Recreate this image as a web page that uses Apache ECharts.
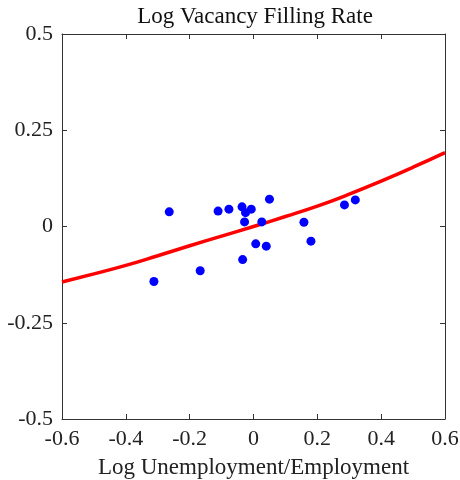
<!DOCTYPE html>
<html>
<head>
<meta charset="utf-8">
<script src="https://cdn.jsdelivr.net/npm/echarts@6/dist/echarts.min.js"></script>
<style>html,body{margin:0;padding:0;background:#fff}#c{width:460px;height:480px}</style>
</head>
<body>
<div id="c"></div>
<script>
var scatterX = [-0.264, -0.312, -0.167, -0.111, -0.077, -0.036, -0.025, -0.007, -0.028, 0.026, 0.050, 0.007, 0.040, -0.034, 0.158, 0.180, 0.285, 0.319];
var scatterY = [0.038, -0.143, -0.115, 0.040, 0.045, 0.051, 0.036, 0.045, 0.012, 0.012, 0.071, -0.045, -0.051, -0.086, 0.011, -0.038, 0.056, 0.069];
var fitX = [-0.6, -0.5, -0.4, -0.3, -0.2, -0.1, 0, 0.1, 0.2, 0.3, 0.4, 0.5, 0.6];
var fitY = [-0.144, -0.123, -0.101, -0.076, -0.050, -0.025, 0.0, 0.026, 0.053, 0.084, 0.118, 0.154, 0.192];
var titleText = 'Log Vacancy Filling Rate';
var xName = 'Log Unemployment/Employment';

var font = 'Liberation Serif';
var axisColor = '#333';
var chart = echarts.init(document.getElementById('c'));
var pts = scatterX.map(function (x, i) { return [x, scatterY[i]]; });
var fit = fitX.map(function (x, i) { return [x, fitY[i]]; });
function frameAxis(pos, isX, showLabel) {
  return {
    type: 'value', position: pos,
    min: isX ? -0.6 : -0.5, max: isX ? 0.6 : 0.5, interval: isX ? 0.2 : 0.25,
    axisLine: { show: true, onZero: false, lineStyle: { color: axisColor, width: 1 } },
    axisTick: { show: true, inside: true, length: 5, lineStyle: { color: axisColor } },
    axisLabel: { show: showLabel, color: '#222', fontFamily: font, fontSize: 22, margin: 9 },
    splitLine: { show: false }
  };
}
var xb = frameAxis('bottom', true, true);
xb.name = xName; xb.nameLocation = 'middle'; xb.nameGap = 37;
xb.nameTextStyle = { color: '#222', fontFamily: font, fontSize: 23 };
var xt = frameAxis('top', true, false);
var yl = frameAxis('left', false, true);
var yr = frameAxis('right', false, false);
chart.setOption({
  animation: false,
  title: { text: titleText, left: 250, top: 0, textAlign: 'center',
    textStyle: { color: '#111', fontFamily: font, fontSize: 23, fontWeight: 'normal' } },
  grid: { left: 62, right: 15, top: 34, bottom: 61, containLabel: false, outerBoundsMode: 'none' },
  xAxis: [xb, xt],
  yAxis: [yl, yr],
  series: [
    { type: 'line', data: fit, smooth: true, showSymbol: false, xAxisIndex: 0, yAxisIndex: 0,
      lineStyle: { color: '#ff0000', width: 3.5 }, z: 2 },
    { type: 'scatter', data: pts, symbolSize: 9, xAxisIndex: 0, yAxisIndex: 0,
      itemStyle: { color: '#0000ff', opacity: 1 }, z: 3 }
  ]
});
</script>
</body>
</html>
